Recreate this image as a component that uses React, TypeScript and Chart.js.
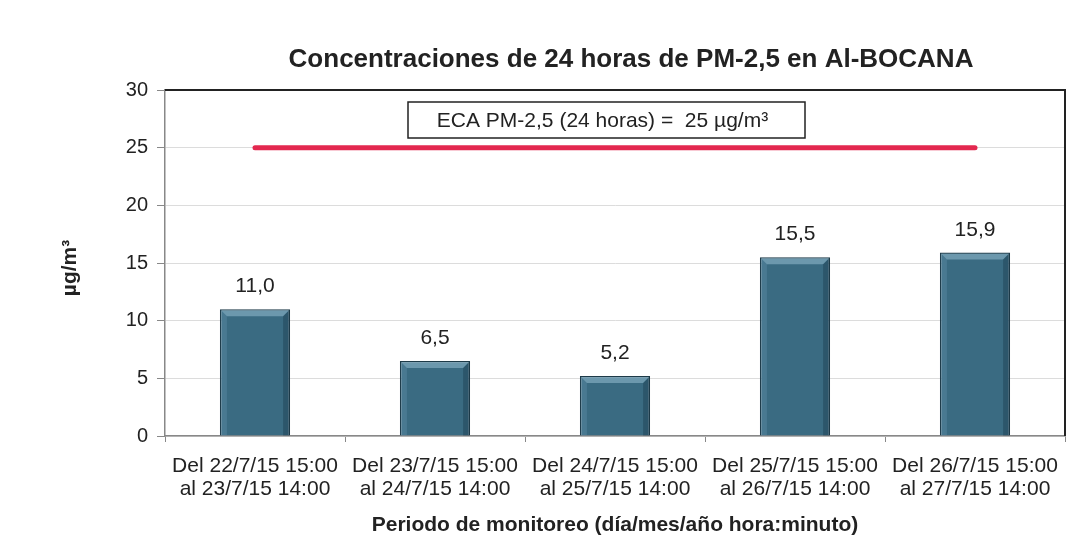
import React, { useEffect, useRef } from "react";
import { Chart, registerables } from "chart.js";

Chart.register(...registerables);

const categories: string[][] = [
  ["Del 22/7/15 15:00", "al 23/7/15 14:00"],
  ["Del 23/7/15 15:00", "al 24/7/15 14:00"],
  ["Del 24/7/15 15:00", "al 25/7/15 14:00"],
  ["Del 25/7/15 15:00", "al 26/7/15 14:00"],
  ["Del 26/7/15 15:00", "al 27/7/15 14:00"],
];
const pmValues: number[] = [11.0, 6.5, 5.2, 15.5, 15.9];
const ecaLimit: number[] = [25, 25, 25, 25, 25];
const yTicks: number[] = [0, 5, 10, 15, 20, 25, 30];

const titleText = "Concentraciones de 24 horas de PM-2,5 en Al-BOCANA";
const yTitleText = "µg/m³";
const xTitleText = "Periodo de monitoreo (día/mes/año hora:minuto)";
const boxText = "ECA PM-2,5 (24 horas) =  25 µg/m³";

const FONT = "'Liberation Sans', Arial, sans-serif";

const decorPlugin = {
  id: "decor",
  afterDatasetsDraw(chart: any) {
    const { ctx, chartArea } = chart;
    const meta = chart.getDatasetMeta(0);
    ctx.save();
    meta.data.forEach((bar: any, i: number) => {
      const w = bar.width;
      const x0 = bar.x - w / 2;
      const x1 = bar.x + w / 2;
      const top = bar.y;
      const base = bar.base;
      const b = 7;
      ctx.fillStyle = "rgba(150,190,210,0.55)";
      ctx.beginPath();
      ctx.moveTo(x0 + 1, top + 1);
      ctx.lineTo(x1 - 1, top + 1);
      ctx.lineTo(x1 - b, top + b);
      ctx.lineTo(x0 + b, top + b);
      ctx.closePath();
      ctx.fill();
      ctx.fillStyle = "rgba(20,50,65,0.35)";
      ctx.beginPath();
      ctx.moveTo(x1 - 1, top + 1);
      ctx.lineTo(x1 - 1, base);
      ctx.lineTo(x1 - b, base);
      ctx.lineTo(x1 - b, top + b);
      ctx.closePath();
      ctx.fill();
      ctx.fillStyle = "rgba(120,165,190,0.25)";
      ctx.beginPath();
      ctx.moveTo(x0 + 1, top + 1);
      ctx.lineTo(x0 + b, top + b);
      ctx.lineTo(x0 + b, base);
      ctx.lineTo(x0 + 1, base);
      ctx.closePath();
      ctx.fill();
      ctx.fillStyle = "#222";
      ctx.font = `21px ${FONT}`;
      ctx.textAlign = "center";
      ctx.textBaseline = "alphabetic";
      ctx.fillText(pmValues[i].toFixed(1).replace(".", ","), bar.x, top - 17);
    });
    ctx.strokeStyle = "#222";
    ctx.lineWidth = 2;
    ctx.beginPath();
    ctx.moveTo(chartArea.left, chartArea.top);
    ctx.lineTo(chartArea.right, chartArea.top);
    ctx.lineTo(chartArea.right, chartArea.bottom);
    ctx.stroke();
    const bx = 408, by = 102, bw = 397, bh = 36;
    ctx.fillStyle = "#fff";
    ctx.fillRect(bx, by, bw, bh);
    ctx.lineWidth = 1.5;
    ctx.strokeStyle = "#222";
    ctx.strokeRect(bx, by, bw, bh);
    ctx.fillStyle = "#222";
    ctx.font = `21px ${FONT}`;
    ctx.textAlign = "center";
    ctx.textBaseline = "middle";
    ctx.fillText(boxText, bx + bw / 2 - 4, by + bh / 2 + 1);
    ctx.font = `bold 26px ${FONT}`;
    ctx.fillText(titleText, 631, 60);
    ctx.font = `bold 21px ${FONT}`;
    ctx.fillText(xTitleText, 615, 525);
    ctx.translate(70, 268);
    ctx.rotate(-Math.PI / 2);
    ctx.fillText(yTitleText, 0, 0);
    ctx.restore();
  },
};

export default function App() {
  const ref = useRef<HTMLCanvasElement>(null);
  useEffect(() => {
    if (!ref.current) return;
    const chart = new Chart(ref.current, {
      type: "bar",
      data: {
        labels: categories,
        datasets: [
          {
            type: "bar",
            data: pmValues,
            backgroundColor: "#3a6b82",
            borderColor: "#1d3a48",
            borderWidth: 1.5,
            categoryPercentage: 1,
            barPercentage: 0.39,
            order: 2,
          } as any,
          {
            type: "line",
            data: ecaLimit,
            borderColor: "#e3284f",
            borderWidth: 5,
            borderCapStyle: "round",
            pointRadius: 0,
            fill: false,
            order: 1,
          } as any,
        ],
      },
      options: {
        animation: false,
        responsive: false,
        layout: { padding: { left: 0, top: 90, right: 18, bottom: 0 } },
        plugins: { legend: { display: false }, tooltip: { enabled: false } },
        scales: {
          x: {
            offset: true,
            grid: {
              offset: true,
              drawOnChartArea: false,
              tickLength: 6,
              color: "#888",
            },
            border: { color: "#888", width: 1.5 },
            ticks: {
              color: "#222",
              font: { family: FONT, size: 21, lineHeight: 1.1 },
              padding: 13,
              maxRotation: 0,
              autoSkip: false,
            },
            afterFit(scale: any) {
              scale.height = 548 - 436;
            },
          },
          y: {
            min: 0,
            max: 30,
            afterBuildTicks(scale: any) {
              scale.ticks = yTicks.map((v) => ({ value: v }));
            },
            grid: { color: "#dcdcdc", tickLength: 8, tickColor: "#888" },
            border: { color: "#888", width: 1.5 },
            ticks: {
              color: "#222",
              font: { family: FONT, size: 20 },
              padding: 9,
            },
            afterFit(scale: any) {
              scale.width = 165;
            },
          },
        },
      },
      plugins: [decorPlugin],
    });
    return () => chart.destroy();
  }, []);
  return (
    <div style={{ position: "fixed", left: 0, top: 0, width: 1083, height: 548, background: "#fff" }}>
      <canvas ref={ref} width={1083} height={548} style={{ width: 1083, height: 548, display: "block" }} />
    </div>
  );
}
